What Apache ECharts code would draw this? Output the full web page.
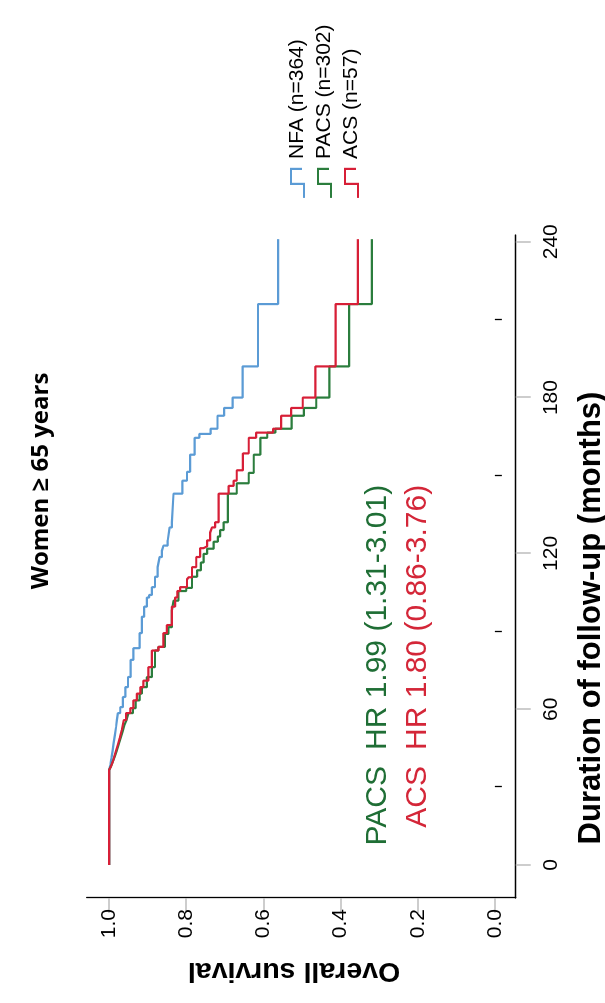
<!DOCTYPE html>
<html><head><meta charset="utf-8">
<script src="https://cdn.jsdelivr.net/npm/echarts@6/dist/echarts.min.js"></script>
<style>
html,body{margin:0;padding:0;width:605px;height:1003px;overflow:hidden;background:#fff;}
#chart{position:absolute;left:0;top:0;width:1003px;height:605px;transform-origin:0 0;transform:translateY(1003px) rotate(-90deg);}
</style></head><body><div id="chart"></div>
<script>
const chartTitle = 'Women \u2265 65 years';
const xTitle = 'Duration of follow-up (months)';
const yTitle = 'Overall survival';
const seriesNames = ['NFA (n=364)', 'PACS (n=302)', 'ACS (n=57)'];

const nfaTime = [0,36.5,38.5,41,44,47,50,53,55.8,58.5,60.8,64.7,68.5,72.4,79,83.5,89.3,95.6,99.5,103,104,107,111,114.7,118.6,121,123,125,130,132,143,148,151.4,158,164.5,166,168,173,176,180,192,216,241];
const nfaSurv = [1.0,0.997,0.994,0.991,0.988,0.985,0.982,0.98,0.977,0.971,0.964,0.958,0.951,0.944,0.937,0.921,0.915,0.909,0.902,0.896,0.889,0.881,0.874,0.869,0.863,0.859,0.848,0.843,0.837,0.833,0.81,0.798,0.79,0.778,0.766,0.737,0.719,0.702,0.68,0.654,0.614,0.562,0.562];

const pacsTime = [0,36.5,38,40,42,44,46.5,49,51.5,54,55.8,58.5,60.4,63.4,66,68.5,72.4,76.2,82.6,84,89,91.6,98,101.8,105.5,106.7,111,113.5,116.5,119.8,121.8,124.5,126.5,129,132,143,147,151,158,164.5,166.5,168,173,176,180,192,216,241];
const pacsSurv = [1.0,0.995,0.99,0.985,0.98,0.975,0.97,0.965,0.96,0.955,0.95,0.938,0.931,0.921,0.915,0.902,0.889,0.881,0.872,0.855,0.846,0.837,0.833,0.82,0.8,0.785,0.772,0.762,0.755,0.746,0.729,0.718,0.712,0.703,0.692,0.669,0.638,0.625,0.608,0.59,0.569,0.527,0.495,0.463,0.429,0.378,0.319,0.319];

const acsTime = [0,36.5,38,40,42,44,46.5,49,52,55.8,58.5,60.4,63.4,66,68.5,71,76.2,82.6,84,89.3,92.4,99.5,103,105.5,107,110,110.8,114.7,118.6,122,122.7,125,128,130,132,143,146,148,152,158.5,164.5,166.5,168,173,176,180,192,216,241];
const acsSurv = [1.0,0.995,0.99,0.986,0.982,0.977,0.972,0.967,0.962,0.956,0.945,0.937,0.928,0.919,0.911,0.898,0.889,0.872,0.859,0.85,0.837,0.829,0.823,0.816,0.798,0.794,0.785,0.774,0.764,0.755,0.746,0.738,0.733,0.725,0.716,0.69,0.677,0.669,0.653,0.638,0.619,0.575,0.554,0.528,0.498,0.465,0.413,0.355,0.355];

const xTicks = [0, 60, 120, 180, 240];
const xMinorTicks = [30, 90, 150, 210];
const yTicks = [0, 0.2, 0.4, 0.6, 0.8, 1.0];

const hrNames = ['PACS', 'ACS'];
const hrTexts = ['HR 1.99 (1.31-3.01)', 'HR 1.80 (0.86-3.76)'];

const colors = ['#5b9bd5', '#2b7d3d', '#d71f37'];
const hrColors = ['#1f6e35', '#d42638'];
const FONT = '"Liberation Sans", Arial, Helvetica, sans-serif';

const times = [nfaTime, pacsTime, acsTime];
const survs = [nfaSurv, pacsSurv, acsSurv];

const chart = echarts.init(document.getElementById('chart'), null, {renderer: 'canvas'});

const series = seriesNames.map((n, i) => ({
  name: n,
  type: 'line',
  step: 'end',
  symbol: 'none',
  showSymbol: false,
  xAxisIndex: 0,
  yAxisIndex: 0,
  lineStyle: {color: colors[i], width: 2.2},
  itemStyle: {color: colors[i]},
  data: times[i].map((t, j) => [t, survs[i][j]]),
  z: 2 + i
}));

const graphics = [
  {type: 'text', x: 522, y: 41, style: {text: chartTitle, fontFamily: '"Open Sans", "Noto Sans", sans-serif', fontWeight: 'bold', fontSize: 24, fill: '#000', align: 'center', verticalAlign: 'middle'}},
  {type: 'text', x: 385, y: 591, style: {text: xTitle, fontFamily: FONT, fontWeight: 'bold', fontSize: 31, fill: '#000', align: 'center', verticalAlign: 'middle'}},
  {type: 'text', x: 32, y: 294, rotation: Math.PI / 2, style: {text: yTitle, fontFamily: FONT, fontWeight: 'bold', fontSize: 28.5, fill: '#000', align: 'center', verticalAlign: 'middle'}}
];
hrNames.forEach((n, i) => {
  const y = 378 + i * 40;
  graphics.push({type: 'text', x: 237, y: y, style: {text: n, fontFamily: FONT, fontSize: 30, fill: hrColors[i], align: 'right', verticalAlign: 'middle'}});
  graphics.push({type: 'text', x: 253, y: y, style: {text: hrTexts[i], fontFamily: FONT, fontSize: 30, fill: hrColors[i], align: 'left', verticalAlign: 'middle'}});
});

chart.setOption({
  animation: false,
  backgroundColor: '#fff',
  grid: {left: 105, right: 235, top: 86.7, bottom: 89.3},
  xAxis: [{
    type: 'value', min: -12.7, max: 242.6, position: 'bottom',
    axisLine: {show: true, onZero: false, lineStyle: {color: '#000', width: 1.3}},
    axisTick: {show: true, customValues: xTicks, length: 15, lineStyle: {color: '#bdbdbd', width: 1.5}},
    axisLabel: {show: true, customValues: xTicks, margin: 25, fontSize: 21, color: '#000', fontFamily: FONT},
    splitLine: {show: false}
  }, {
    type: 'value', min: -12.7, max: 242.6, position: 'bottom', offset: 0,
    axisLine: {show: false},
    axisTick: {show: true, customValues: xMinorTicks, length: 7, lineStyle: {color: '#000', width: 1.3}},
    axisLabel: {show: false},
    splitLine: {show: false}
  }],
  yAxis: {
    type: 'value', min: -0.054, max: 1.058,
    axisLine: {show: true, onZero: false, lineStyle: {color: '#000', width: 1.3}},
    axisTick: {show: true, customValues: yTicks, length: 15, lineStyle: {color: '#bdbdbd', width: 1.5}},
    axisLabel: {show: true, customValues: yTicks, formatter: v => v.toFixed(1), margin: 11, fontSize: 21, color: '#000', fontFamily: FONT},
    splitLine: {show: false}
  },
  legend: {
    orient: 'vertical', left: 799, top: 282,
    itemWidth: 29, itemHeight: 13, itemGap: 6, selectedMode: false,
    textStyle: {fontSize: 21, lineHeight: 21, color: '#000', fontFamily: FONT, padding: [0, 0, 0, 5]},
    data: seriesNames.map((n, i) => ({
      name: n,
      icon: 'path://M0,13L14,13L14,0L29,0L29,11',
      itemStyle: {color: 'rgba(0,0,0,0)', borderColor: colors[i], borderWidth: 2.2}
    }))
  },
  graphic: graphics,
  series: series
});
</script></body></html>
